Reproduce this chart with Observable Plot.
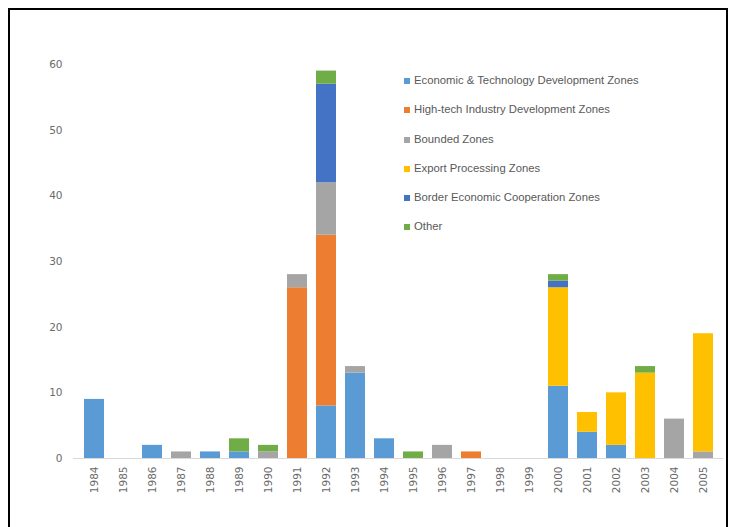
<!DOCTYPE html>
<html>
<head>
<meta charset="utf-8">
<script src="https://cdn.jsdelivr.net/npm/d3@7"></script>
<script src="https://cdn.jsdelivr.net/npm/@observablehq/plot@0.6"></script>
<style>
  html, body { margin: 0; padding: 0; background: #fff; }
  #wrap { position: relative; width: 734px; height: 527px; overflow: hidden; font-family: "Liberation Sans", Arial, sans-serif; }
  #frame { position: absolute; left: 8px; top: 8px; width: 720px; height: 540px; border: 2.5px solid #000; box-sizing: border-box; pointer-events: none; }
  #chart { position: absolute; left: 0; top: 0; }
  #legend { position: absolute; left: 404px; top: 74px; font-size: 11.3px; color: #595959; }
  #legend .item { height: 29.3px; display: flex; align-items: flex-start; white-space: nowrap; }
  #legend .sw { width: 6px; height: 6px; margin-right: 4px; margin-top: 4px; flex: none; }
</style>
</head>
<body>
<div id="wrap">
  <div id="chart"></div>
  <div id="legend"></div>
  <div id="frame"></div>
</div>
<script>
// Zones established per year, by zone type
const years = ["1984","1985","1986","1987","1988","1989","1990","1991","1992","1993","1994",
               "1995","1996","1997","1998","1999","2000","2001","2002","2003","2004","2005"];
const series = [
  "Economic & Technology Development Zones",
  "High-tech Industry Development Zones",
  "Bounded Zones",
  "Export Processing Zones",
  "Border Economic Cooperation Zones",
  "Other"
];
const colors = ["#5b9bd5", "#ed7d31", "#a5a5a5", "#ffc000", "#4472c4", "#70ad47"];

const economic = [9,0,2,0,1,1,0,0,8,13,3,0,0,0,0,0,11,4,2,0,0,0];
const highTech = [0,0,0,0,0,0,0,26,26,0,0,0,0,1,0,0,0,0,0,0,0,0];
const bounded  = [0,0,0,1,0,0,1,2,8,1,0,0,2,0,0,0,0,0,0,0,6,1];
const exportPz = [0,0,0,0,0,0,0,0,0,0,0,0,0,0,0,0,15,3,8,13,0,18];
const border   = [0,0,0,0,0,0,0,0,15,0,0,0,0,0,0,0,1,0,0,0,0,0];
const other    = [0,0,0,0,0,2,1,0,2,0,0,1,0,0,0,0,1,0,0,1,0,0];
const yTicks = [0,10,20,30,40,50,60];

const valuesBySeries = [economic, highTech, bounded, exportPz, border, other];
const rows = [];
series.forEach((s, i) => {
  years.forEach((yr, j) => {
    rows.push({year: yr, series: s, value: valuesBySeries[i][j]});
  });
});

const chart = Plot.plot({
  width: 734,
  height: 527,
  marginLeft: 73,
  marginRight: 11,
  marginTop: 64,
  marginBottom: 69,
  style: {fontFamily: "DejaVu Sans, sans-serif", color: "#6a6a6a", background: "transparent"},
  x: {domain: years, paddingInner: 0.32, paddingOuter: 0.16, label: null},
  y: {domain: [0, 60], label: null},
  color: {domain: series, range: colors},
  marks: [
    Plot.ruleY([0], {stroke: "#d9d9d9", strokeWidth: 1}),
    Plot.barY(rows, {x: "year", y: "value", fill: "series", order: series}),
    Plot.axisY({ticks: yTicks, tickSize: 0, tickPadding: 11, fontSize: 10.5, label: null}),
    Plot.axisX({tickSize: 0, tickPadding: 8, tickRotate: -90, fontSize: 10.5, label: null})
  ]
});
document.getElementById("chart").appendChild(chart);

// Legend, one row per zone type
const legend = document.getElementById("legend");
series.forEach((s, i) => {
  const item = document.createElement("div");
  item.className = "item";
  const sw = document.createElement("span");
  sw.className = "sw";
  sw.style.background = colors[i];
  const label = document.createElement("span");
  label.textContent = s;
  item.appendChild(sw);
  item.appendChild(label);
  legend.appendChild(item);
});
</script>
</body>
</html>
